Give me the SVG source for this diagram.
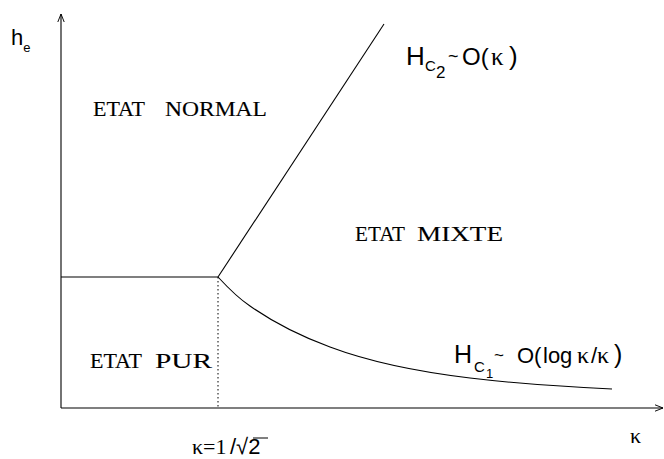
<svg xmlns="http://www.w3.org/2000/svg" width="664" height="459" viewBox="0 0 664 459">
<defs>
<style>
.ln{fill:none;stroke:#000;stroke-width:1.1}
text{fill:#000}
.sf{font-family:"Liberation Serif","Times New Roman",Times,serif}
.ss{font-family:"Liberation Sans",Arial,Helvetica,sans-serif}
.lb{font-size:21px;stroke:#000;stroke-width:0.12px}
</style>
<marker id="ah" viewBox="0 0 10 10" refX="10" refY="5" markerWidth="8" markerHeight="8" markerUnits="userSpaceOnUse" orient="auto">
<path d="M0,1 L10,5 L0,9" fill="none" stroke="#000" stroke-width="1.2"/>
</marker>
</defs>
<rect width="664" height="459" fill="#fff"/>
<g id="axes">
<line class="ln" x1="61" y1="408" x2="61" y2="14" marker-end="url(#ah)"/>
<line class="ln" x1="61" y1="408" x2="663" y2="408" marker-end="url(#ah)"/>
</g>
<g id="connectors">
<line class="ln" x1="61" y1="277" x2="218" y2="277"/>
<line class="ln" x1="218" y1="277" x2="384" y2="24"/>
<path class="ln" d="M218,277 C230,290 238,298 250,306 C270,320 300,336 330,347 C370,362 420,372 470,378 C520,384 570,387 612,389"/>
<line x1="218" y1="277" x2="218" y2="408" stroke="#000" stroke-width="1" stroke-dasharray="1.5,2.5"/>
</g>
<g id="labels">
<text class="ss" x="11" y="45" font-size="22">h<tspan font-size="13" dy="7">e</tspan></text>
<g id="normal" class="sf lb">
<text x="93" y="116" textLength="52" lengthAdjust="spacingAndGlyphs">ETAT</text>
<text x="165" y="116" textLength="102" lengthAdjust="spacingAndGlyphs">NORMAL</text>
</g>
<g id="mixte" class="sf lb">
<text x="355" y="241" textLength="50" lengthAdjust="spacingAndGlyphs">ETAT</text>
<text x="417" y="241" textLength="86" lengthAdjust="spacingAndGlyphs">MIXTE</text>
</g>
<g id="pur" class="sf lb">
<text x="90" y="368" textLength="52" lengthAdjust="spacingAndGlyphs">ETAT</text>
<text x="155" y="368" textLength="57" lengthAdjust="spacingAndGlyphs">PUR</text>
</g>
<g id="hc2">
<text class="ss" x="406" y="65" font-size="26">H</text>
<text class="ss" x="425" y="71" font-size="15">C</text>
<text class="ss" x="436" y="78" font-size="17">2</text>
<text class="ss" x="448" y="62" font-size="18">~</text>
<text class="ss" x="462" y="65" font-size="24">O(</text>
<text class="sf" x="491" y="65" font-size="25">κ</text>
<text class="ss" x="509" y="65" font-size="26">)</text>
</g>
<g id="hc1">
<text class="ss" x="454" y="363" font-size="25">H</text>
<text class="ss" x="474" y="372" font-size="15">C</text>
<text class="ss" x="486" y="378" font-size="13">1</text>
<text class="ss" x="494" y="361" font-size="17">~</text>
<text class="ss" x="517" y="363" font-size="22">O(</text>
<text class="ss" x="543" y="363" font-size="22">log</text>
<text class="sf" x="577" y="363" font-size="24">κ</text>
<text class="ss" x="591" y="363" font-size="22">/</text>
<text class="sf" x="597" y="363" font-size="24">κ</text>
<text class="ss" x="614" y="363" font-size="25">)</text>
</g>
<text class="sf" x="630" y="443" font-size="22">κ</text>
<g id="kappa-crit">
<text class="sf" x="192" y="454" font-size="22">κ=1</text>
<text class="ss" x="230" y="454" font-size="22">/√2</text>
<line x1="253" y1="438" x2="268" y2="438" stroke="#000" stroke-width="1"/>
</g>
</g>
</svg>
